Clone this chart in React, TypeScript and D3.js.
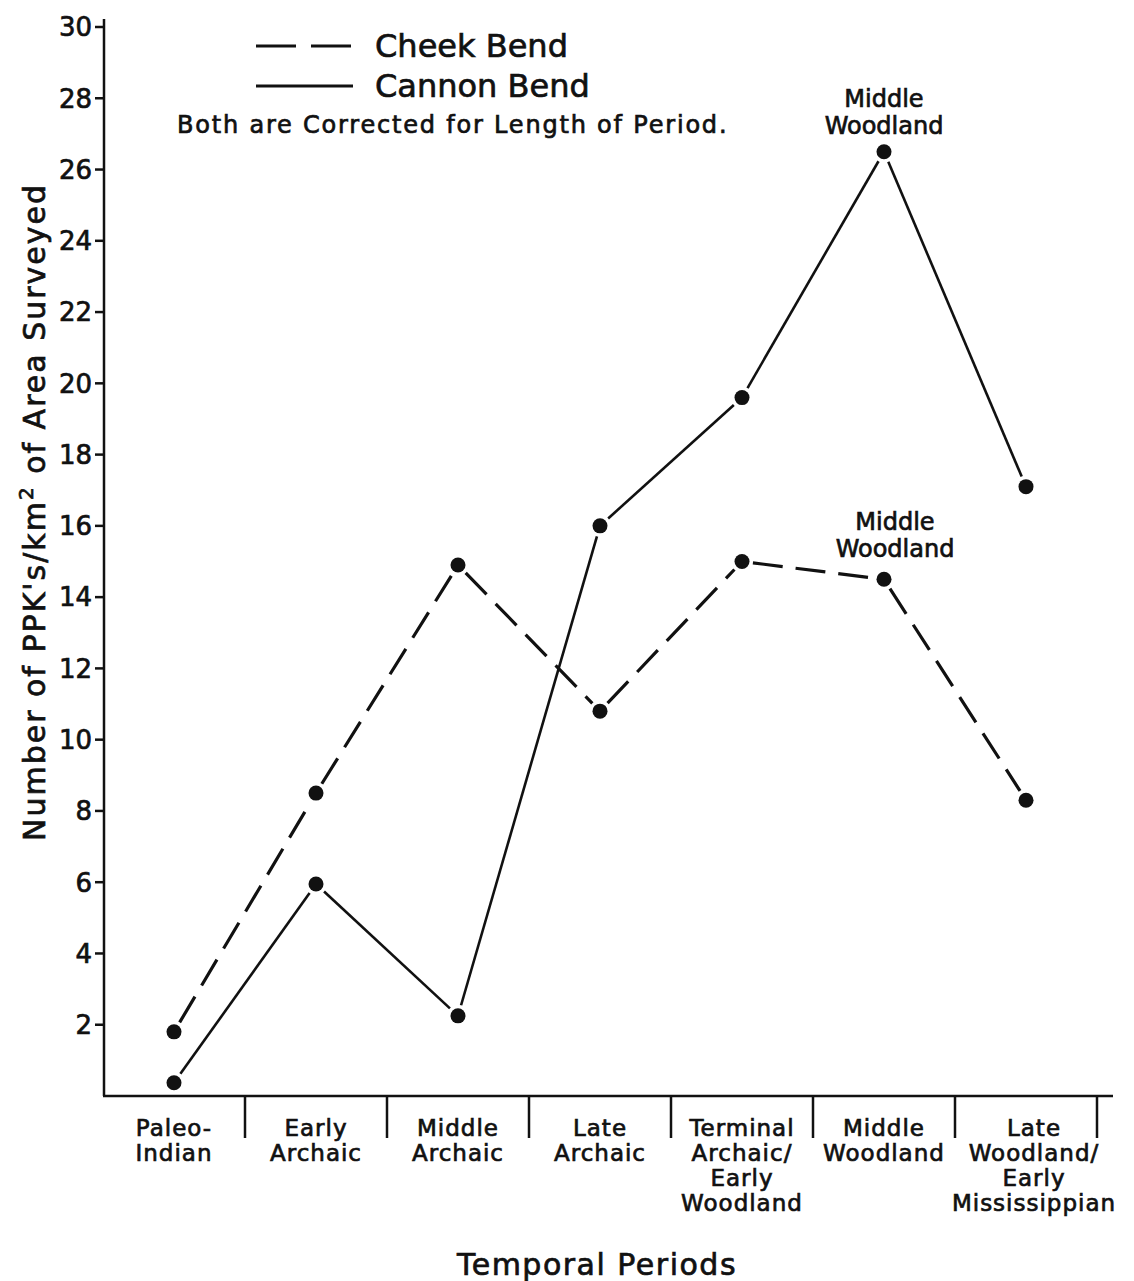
import React from "react";
import * as d3 from "d3";

const periods: string[][] = [
  ["Paleo-", "Indian"],
  ["Early", "Archaic"],
  ["Middle", "Archaic"],
  ["Late", "Archaic"],
  ["Terminal", "Archaic/", "Early", "Woodland"],
  ["Middle", "Woodland"],
  ["Late", "Woodland/", "Early", "Mississippian"],
];
const periodKeys = periods.map((p) => p.join(" "));
const cheekBend = [1.8, 8.5, 14.9, 10.8, 15.0, 14.5, 8.3];
const cannonBend = [0.37, 5.95, 2.25, 16.0, 19.6, 26.5, 17.1];
const yTicks = [2, 4, 6, 8, 10, 12, 14, 16, 18, 20, 22, 24, 26, 28, 30];
const FONT = "'DejaVu Sans', sans-serif";
const INK = "#111";

export default function App() {
  const W = 1134, H = 1281;
  const y = d3.scaleLinear().domain([0, 30]).range([1096, 27]);
  const x = d3.scaleBand<string>().domain(periodKeys).range([103, 1097]).padding(0);
  const cx = (i: number) => (x(periodKeys[i]) as number) + x.bandwidth() / 2;

  const segs = (vals: number[]) => {
    const out: { x1: number; y1: number; x2: number; y2: number }[] = [];
    for (let i = 0; i < vals.length - 1; i++) {
      const ax = cx(i), ay = y(vals[i]), bx = cx(i + 1), by = y(vals[i + 1]);
      const dx = bx - ax, dy = by - ay;
      const L = Math.hypot(dx, dy);
      const g = 11;
      out.push({
        x1: ax + (dx / L) * g,
        y1: ay + (dy / L) * g,
        x2: bx - (dx / L) * g,
        y2: by - (dy / L) * g,
      });
    }
    return out;
  };
  const lineGen = d3.line<{ x: number; y: number }>().x((d) => d.x).y((d) => d.y);
  const ts = { fill: INK, stroke: INK, strokeWidth: 0.7 };

  return (
    <svg
      width={W}
      height={H}
      style={{ position: "absolute", left: 0, top: 0, background: "#fff" }}
      fontFamily={FONT}
    >
      <rect width={W} height={H} fill="#fff" />
      {/* y axis */}
      <line x1={104} x2={104} y1={y(30) - 8} y2={y(0)} stroke={INK} strokeWidth={2.5} />
      {yTicks.map((t) => (
        <g key={t}>
          <line x1={95} x2={104} y1={y(t)} y2={y(t)} stroke={INK} strokeWidth={2.5} />
          <text x={92} y={y(t)} dy="0.36em" textAnchor="end" fontSize={26} {...ts}>
            {t}
          </text>
        </g>
      ))}
      {/* x axis */}
      <line x1={103} x2={1113} y1={y(0)} y2={y(0)} stroke={INK} strokeWidth={2.5} />
      {periodKeys.map((k) => (
        <line
          key={k}
          x1={(x(k) as number) + x.bandwidth()}
          x2={(x(k) as number) + x.bandwidth()}
          y1={y(0)}
          y2={y(0) + 42}
          stroke={INK}
          strokeWidth={2.5}
        />
      ))}
      {periods.map((lines, i) => (
        <text key={i} textAnchor="middle" fontSize={23} letterSpacing={1} {...ts}>
          {lines.map((l, j) => (
            <tspan key={j} x={cx(i) + (i === 6 ? 8 : 0)} y={1136 + j * 25}>
              {l}
            </tspan>
          ))}
        </text>
      ))}
      <text x={597} y={1275} textAnchor="middle" fontSize={30} letterSpacing={1.5} {...ts}>
        Temporal Periods
      </text>
      <text
        transform="translate(45,512) rotate(-90)"
        textAnchor="middle"
        fontSize={30}
        letterSpacing={2}
        {...ts}
      >
        Number of PPK's/km<tspan dy={-12} fontSize={20}>2</tspan>
        <tspan dy={12}> of Area Surveyed</tspan>
      </text>

      {/* series */}
      {segs(cannonBend).map((s, i) => (
        <path
          key={"c" + i}
          d={lineGen([{ x: s.x1, y: s.y1 }, { x: s.x2, y: s.y2 }]) as string}
          stroke={INK}
          strokeWidth={2.6}
          fill="none"
        />
      ))}
      {segs(cheekBend).map((s, i) => (
        <path
          key={"k" + i}
          d={lineGen([{ x: s.x1, y: s.y1 }, { x: s.x2, y: s.y2 }]) as string}
          stroke={INK}
          strokeWidth={3.2}
          strokeDasharray="30,13"
          fill="none"
        />
      ))}
      {cannonBend.map((v, i) => (
        <circle key={"cc" + i} cx={cx(i)} cy={y(v)} r={7.5} fill={INK} />
      ))}
      {cheekBend.map((v, i) => (
        <circle key={"kc" + i} cx={cx(i)} cy={y(v)} r={7.5} fill={INK} />
      ))}

      {/* annotations */}
      <text textAnchor="middle" fontSize={24} {...ts}>
        <tspan x={884} y={107}>Middle</tspan>
        <tspan x={884} y={134}>Woodland</tspan>
      </text>
      <text textAnchor="middle" fontSize={24} {...ts}>
        <tspan x={895} y={530}>Middle</tspan>
        <tspan x={895} y={557}>Woodland</tspan>
      </text>

      {/* legend */}
      <line x1={256} x2={352} y1={46} y2={46} stroke={INK} strokeWidth={3} strokeDasharray="40,15" />
      <text x={375} y={57} fontSize={32} {...ts}>Cheek Bend</text>
      <line x1={256} x2={353} y1={86} y2={86} stroke={INK} strokeWidth={3} />
      <text x={375} y={97} fontSize={32} {...ts}>Cannon Bend</text>
      <text x={177} y={133} fontSize={24} letterSpacing={1.8} {...ts}>
        Both are Corrected for Length of Period.
      </text>
    </svg>
  );
}
